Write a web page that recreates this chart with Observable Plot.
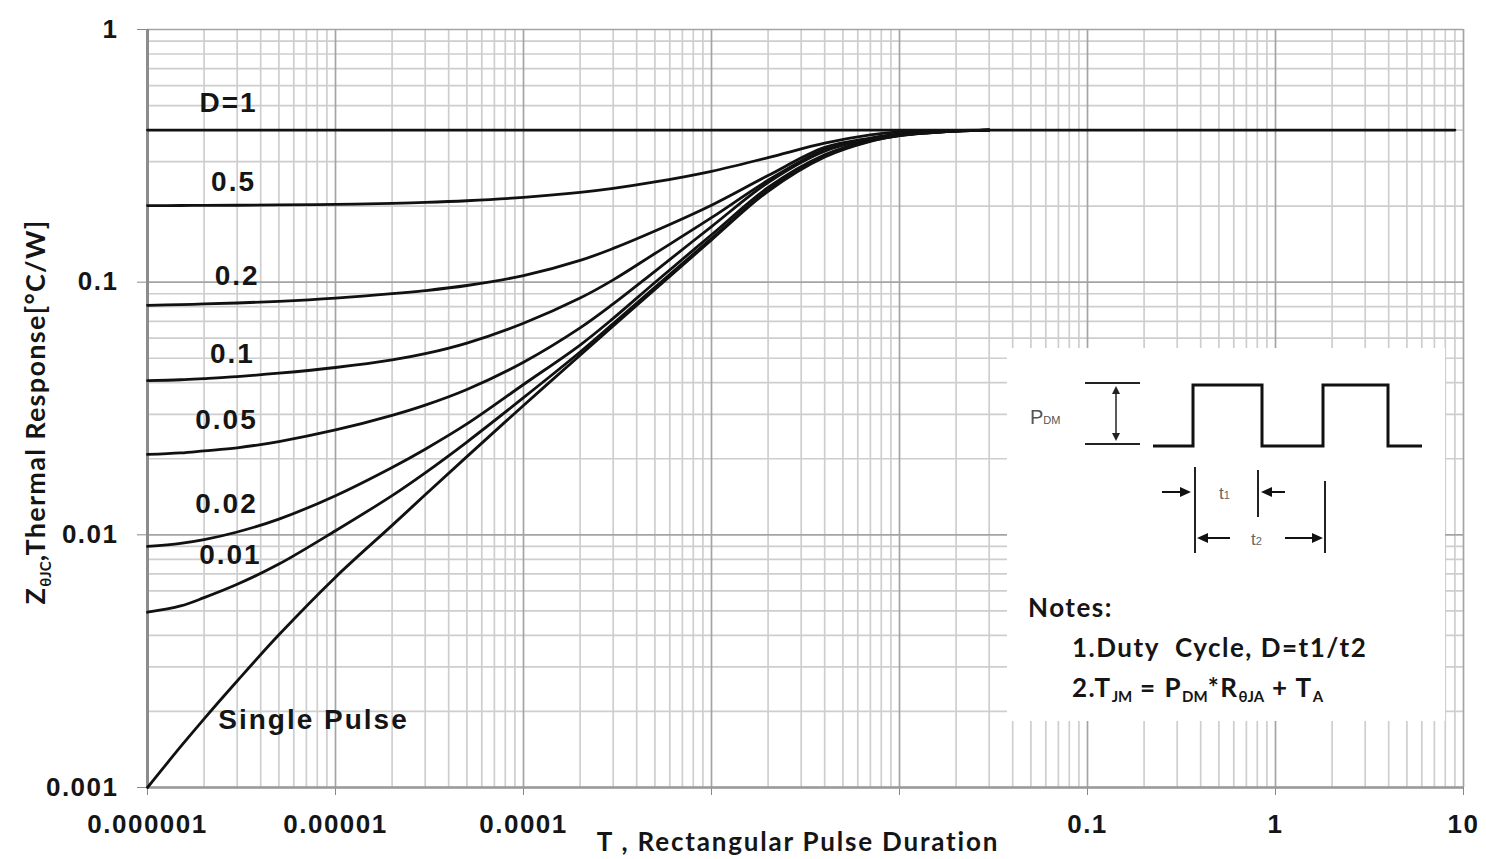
<!DOCTYPE html>
<html>
<head>
<meta charset="utf-8">
<script src="https://cdn.jsdelivr.net/npm/d3@7"></script>
<script src="https://cdn.jsdelivr.net/npm/@observablehq/plot@0.6"></script>
<style>
  body { margin: 0; background: #fff; }
  #chart { width: 1486px; height: 859px; }
</style>
</head>
<body>
<div id="chart"></div>
<script>
// ---- data ----
const pulseDuration = [1e-6, 1.5e-6, 2e-6, 3e-6, 5e-6, 1e-5, 2e-5, 3e-5, 5e-5, 1e-4, 2e-4, 3e-4, 5e-4, 1e-3, 2e-3, 4e-3, 7e-3, 1e-2, 2e-2, 3e-2];
const zD05    = [0.2010, 0.2011, 0.2013, 0.2016, 0.2022, 0.2033, 0.2051, 0.2068, 0.2100, 0.2166, 0.2266, 0.2350, 0.2492, 0.2747, 0.3112, 0.3550, 0.3828, 0.3932, 0.3990, 0.4000];
const zD02    = [0.0810, 0.0815, 0.0820, 0.0827, 0.0840, 0.0865, 0.0900, 0.0926, 0.0970, 0.1061, 0.1219, 0.1360, 0.1594, 0.2016, 0.2642, 0.3415, 0.3720, 0.3860, 0.3970, 0.4000];
const zD01    = [0.0408, 0.0411, 0.04155, 0.0423, 0.04362, 0.04595, 0.04924, 0.05212, 0.05742, 0.0688, 0.0865, 0.1021, 0.1298, 0.1800, 0.2530, 0.3350, 0.3700, 0.3840, 0.3970, 0.4000];
const zD005   = [0.0208, 0.0211, 0.0215, 0.0221, 0.0234, 0.0260, 0.0297, 0.0326, 0.0376, 0.0482, 0.0659, 0.0820, 0.1104, 0.1660, 0.2480, 0.3300, 0.3680, 0.3830, 0.3970, 0.4000];
const zD002   = [0.0090, 0.00925, 0.00957, 0.01026, 0.01154, 0.01429, 0.01848, 0.02183, 0.02748, 0.03936, 0.0564, 0.0719, 0.0997, 0.1540, 0.2370, 0.3190, 0.3640, 0.3815, 0.3965, 0.4000];
const zD001   = [0.00494, 0.00523, 0.00564, 0.00637, 0.00766, 0.01038, 0.0143, 0.0176, 0.0233, 0.0349, 0.0529, 0.0686, 0.0955, 0.1490, 0.2310, 0.3170, 0.3620, 0.3805, 0.3962, 0.4000];
const zSingle = [0.0010, 0.00145, 0.00187, 0.00264, 0.00402, 0.0068, 0.0109, 0.0144, 0.0204, 0.0325, 0.0514, 0.0671, 0.0935, 0.1470, 0.2290, 0.3130, 0.3610, 0.3800, 0.3960, 0.4000];
const seriesNames = ["0.5", "0.2", "0.1", "0.05", "0.02", "0.01", "Single Pulse"];
const seriesValues = [zD05, zD02, zD01, zD005, zD002, zD001, zSingle];
const dOneT = [1e-6, 9];
const dOneZ = [0.4, 0.4];

const xTickValues = [1e-6, 1e-5, 1e-4, 1e-3, 1e-2, 1e-1, 1, 10];
const xTickLabels = ["0.000001", "0.00001", "0.0001", "", "", "0.1", "1", "10"];
const yTickValues = [0.001, 0.01, 0.1, 1];
const yTickLabels = ["0.001", "0.01", "0.1", "1"];

const curveLabels = ["D=1", "0.5", "0.2", "0.1", "0.05", "0.02", "0.01", "Single Pulse"];
const curveLabelT = [2.7e-6, 2.87e-6, 3.0e-6, 2.83e-6, 2.63e-6, 2.63e-6, 2.76e-6, 7.64e-6];
const curveLabelZ = [0.51, 0.248, 0.106, 0.0518, 0.0284, 0.0133, 0.00829, 0.00185];

// ---- build table ----
const rows = [];
seriesNames.forEach((name, i) => pulseDuration.forEach((t, j) => rows.push({series: name, t, z: seriesValues[i][j]})));
dOneT.forEach((t, j) => rows.push({series: "D=1", t, z: dOneZ[j]}));
const labelIdx = curveLabels.map((_, i) => i);

const minorX = d3.range(-6, 1).flatMap(d => d3.range(2, 10).map(m => m * Math.pow(10, d)));
const minorY = d3.range(-3, 0).flatMap(d => d3.range(2, 10).map(m => m * Math.pow(10, d)));

const plot = Plot.plot({
  width: 1486,
  height: 859,
  marginLeft: 147,
  marginRight: 23,
  marginTop: 29,
  marginBottom: 72,
  style: {fontFamily: "'Liberation Sans', Arial, sans-serif", background: "#fff", color: "#111"},
  x: {type: "log", domain: [1e-6, 10]},
  y: {type: "log", domain: [0.001, 1]},
  marks: [
    Plot.ruleX(minorX, {stroke: "#cecece", strokeWidth: 1.7}),
    Plot.ruleY(minorY, {stroke: "#cecece", strokeWidth: 1.7}),
    Plot.ruleX(xTickValues, {stroke: "#a4a4a4", strokeWidth: 1.7}),
    Plot.ruleY(yTickValues, {stroke: "#a4a4a4", strokeWidth: 1.7}),
    Plot.axisX({ticks: xTickValues, tickFormat: d => xTickLabels[xTickValues.indexOf(d)], tickSize: 8, tickPadding: 19, fontSize: 26, fontWeight: "bold", stroke: "#888", label: null}),
    Plot.axisY({ticks: yTickValues, tickFormat: d => yTickLabels[yTickValues.indexOf(d)], tickSize: 10, tickPadding: 19, fontSize: 26, fontWeight: "bold", stroke: "#888", label: null}),
    Plot.ruleX([1e-6], {stroke: "#8c8c8c", strokeWidth: 3}),
    Plot.ruleY([0.001], {stroke: "#9a9a9a", strokeWidth: 2.5}),
    Plot.line(rows, {x: "t", y: "z", z: "series", stroke: "#111", strokeWidth: 2.8, curve: "catmull-rom"}),
    Plot.text(labelIdx, {x: i => curveLabelT[i], y: i => curveLabelZ[i], text: i => curveLabels[i], fontSize: 28, fontWeight: "bold", fill: "#151515"})
  ]
});
document.getElementById("chart").appendChild(plot);

const svg = d3.select(plot);
svg.selectAll('[aria-label="x-axis tick label"] text, [aria-label="y-axis tick label"] text').style("letter-spacing", "1.5px").style("fill", "#151515");
svg.selectAll('[aria-label="text"] text').style("letter-spacing", "2px");

// ---- axis titles ----
const titleFont = "Lato, 'Open Sans', sans-serif";
const yt = svg.append("text")
  .attr("transform", "translate(45,412) rotate(-90)")
  .attr("text-anchor", "middle")
  .style("font-family", titleFont).style("font-weight", "bold").style("font-size", "27px")
  .style("letter-spacing", "1.3px").style("fill", "#151515");
yt.append("tspan").text("Z");
yt.append("tspan").attr("dy", 6).style("font-size", "15px").style("letter-spacing", "0px").text("θJC");
yt.append("tspan").attr("dy", -6).text(",Thermal Response[°C/W]");

svg.append("text").attr("x", 798).attr("y", 851).attr("text-anchor", "middle")
  .style("font-family", titleFont).style("font-weight", "bold").style("font-size", "26px")
  .style("letter-spacing", "1.8px").style("fill", "#151515")
  .text("T , Rectangular Pulse Duration");

// ---- inset: pulse diagram and notes ----
const g = svg.append("g").attr("text-anchor", "start");
g.append("rect").attr("x", 1007).attr("y", 348).attr("width", 438).attr("height", 373).attr("fill", "#fff");
g.append("path").attr("d", "M1153,446 H1193 V385 H1262 V446 H1323 V385 H1388 V446 H1422")
  .attr("fill", "none").attr("stroke", "#111").attr("stroke-width", 3);
// PDM bar
g.append("line").attr("x1", 1085).attr("x2", 1140).attr("y1", 383).attr("y2", 383).attr("stroke", "#222").attr("stroke-width", 2);
g.append("line").attr("x1", 1085).attr("x2", 1140).attr("y1", 444).attr("y2", 444).attr("stroke", "#222").attr("stroke-width", 2);
g.append("line").attr("x1", 1116).attr("x2", 1116).attr("y1", 388).attr("y2", 439).attr("stroke", "#222").attr("stroke-width", 1.5);
g.append("path").attr("d", "M1116,386 L1112,394 L1120,394 Z M1116,441 L1112,433 L1120,433 Z").attr("fill", "#222");
const pdm = g.append("text").attr("x", 1030).attr("y", 424).style("font-family", "'Liberation Sans', Arial, sans-serif").style("fill", "#555");
pdm.append("tspan").style("font-size", "20px").text("P");
pdm.append("tspan").style("font-size", "11px").text("DM");
// t1 / t2 markers
g.append("line").attr("x1", 1195).attr("x2", 1195).attr("y1", 467).attr("y2", 553).attr("stroke", "#222").attr("stroke-width", 2);
g.append("line").attr("x1", 1258).attr("x2", 1258).attr("y1", 470).attr("y2", 517).attr("stroke", "#222").attr("stroke-width", 2);
g.append("line").attr("x1", 1325).attr("x2", 1325).attr("y1", 481).attr("y2", 553).attr("stroke", "#222").attr("stroke-width", 2);
g.append("line").attr("x1", 1162).attr("x2", 1182).attr("y1", 492).attr("y2", 492).attr("stroke", "#111").attr("stroke-width", 2);
g.append("line").attr("x1", 1270).attr("x2", 1285).attr("y1", 492).attr("y2", 492).attr("stroke", "#111").attr("stroke-width", 2);
g.append("line").attr("x1", 1207).attr("x2", 1230).attr("y1", 538).attr("y2", 538).attr("stroke", "#111").attr("stroke-width", 2);
g.append("line").attr("x1", 1285).attr("x2", 1313).attr("y1", 538).attr("y2", 538).attr("stroke", "#111").attr("stroke-width", 2);
g.append("path").attr("d", "M1191,492 L1180,487 L1180,497 Z M1261,492 L1272,487 L1272,497 Z M1197,538 L1208,533 L1208,543 Z M1323,538 L1312,533 L1312,543 Z").attr("fill", "#111");
const t1 = g.append("text").attr("x", 1219).attr("y", 499).style("font-family", "'Liberation Sans', Arial, sans-serif").style("fill", "#666");
t1.append("tspan").style("font-size", "17px").text("t");
t1.append("tspan").style("font-size", "11px").text("1");
const t2 = g.append("text").attr("x", 1251).attr("y", 545).style("font-family", "'Liberation Sans', Arial, sans-serif").style("fill", "#666");
t2.append("tspan").style("font-size", "17px").text("t");
t2.append("tspan").style("font-size", "11px").text("2");
// notes
const noteStyle = sel => sel.style("font-family", titleFont).style("font-weight", "bold").style("font-size", "26px")
  .style("letter-spacing", "1.5px").style("fill", "#151515");
noteStyle(g.append("text").attr("x", 1028).attr("y", 617)).text("Notes:");
noteStyle(g.append("text").attr("x", 1072).attr("y", 657)).attr("xml:space", "preserve").style("white-space", "pre").text("1.Duty  Cycle, D=t1/t2");
const n2 = noteStyle(g.append("text").attr("x", 1072).attr("y", 697));
n2.append("tspan").text("2.T");
n2.append("tspan").attr("dy", 5).style("font-size", "15px").style("letter-spacing", "0px").text("JM");
n2.append("tspan").attr("dy", -5).text(" = P");
n2.append("tspan").attr("dy", 5).style("font-size", "15px").style("letter-spacing", "0px").text("DM");
n2.append("tspan").attr("dy", -5).text("*R");
n2.append("tspan").attr("dy", 5).style("font-size", "15px").style("letter-spacing", "0px").text("θJA");
n2.append("tspan").attr("dy", -5).text(" + T");
n2.append("tspan").attr("dy", 5).style("font-size", "15px").style("letter-spacing", "0px").text("A");
</script>
</body>
</html>
